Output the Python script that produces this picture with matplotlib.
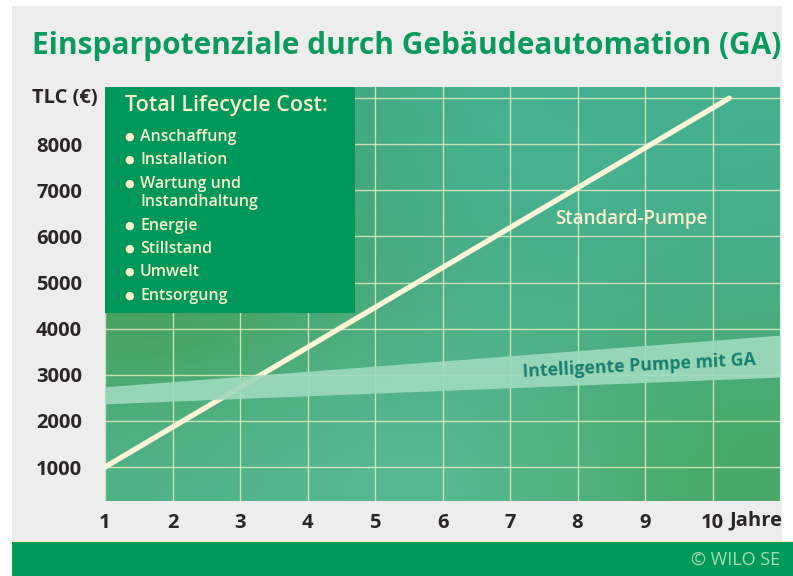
import numpy as np
import matplotlib
matplotlib.use("Agg")
import matplotlib.pyplot as plt
from matplotlib.colors import to_rgb
from matplotlib.patches import Rectangle

# data
years = [1, 2, 3, 4, 5, 6, 7, 8, 9, 10]
y_ticks = [1000, 2000, 3000, 4000, 5000, 6000, 7000, 8000, 9000]
y_labels = ["1000", "2000", "3000", "4000", "5000", "6000", "7000", "8000", ""]

standard_x = [1, 10.25]
standard_y = [1000, 9000]

smart_x = [1, 11]
smart_low = [2370, 2950]
smart_high = [2740, 3860]

lifecycle_items = ["Anschaffung", "Installation", "Wartung und\nInstandhaltung",
                   "Energie", "Stillstand", "Umwelt", "Entsorgung"]

W, H = 793, 576
GREEN = "#0b9a5e"
CREAM = "#f7f2cc"
BOLD_FONT = ["Open Sans", "DejaVu Sans"]


def fx(px):
    return px / W


def fy(py):
    return 1 - py / H


fig = plt.figure(figsize=(W / 100, H / 100), dpi=100, facecolor="white")

# light grey panel and green footer
fig.patches.append(Rectangle((fx(12), fy(541)), fx(770), 535 / H, transform=fig.transFigure,
                             facecolor="#eeeded", edgecolor="none", zorder=-2))
fig.patches.append(Rectangle((fx(12), 0), fx(781), 34 / H, transform=fig.transFigure,
                             facecolor="#00995c", edgecolor="none", zorder=-2))
fig.patches.append(Rectangle((fx(12), fy(542)), fx(781), 1.5 / H, transform=fig.transFigure,
                             facecolor="#f3ecc6", edgecolor="none", zorder=-2))

ax = fig.add_axes([fx(105), 1 - 501 / H, 675 / W, 414 / H])
ax.set_zorder(1)
xlim = (1, 11)
ylim = (263, 9240)

# soft colour gradient of the plot background
grid_cols = [["#3a9f62", "#48b396", "#44b08f"],
             ["#459a4c", "#4bb08e", "#4aae88"],
             ["#4fb389", "#5cbf9e", "#48a866"]]
img = np.array([[to_rgb(c) for c in row] for row in grid_cols])
ax.imshow(img, extent=(xlim[0], xlim[1], ylim[0], ylim[1]), aspect="auto",
          interpolation="bicubic", origin="upper", zorder=0)

ax.set_xlim(*xlim)
ax.set_ylim(*ylim)
ax.set_xticks(years)
ax.set_xticklabels([str(y) for y in years])
ax.set_yticks(y_ticks)
ax.set_yticklabels(y_labels)
ax.grid(True, color="#e2ebbf", linewidth=1.0, alpha=0.85)
for s in ax.spines.values():
    s.set_visible(False)
ax.tick_params(length=0, labelsize=14.5, labelcolor="#2b2626")
ax.tick_params(axis="x", pad=9)
ax.tick_params(axis="y", pad=16.5)
for lab in ax.get_xticklabels() + ax.get_yticklabels():
    lab.set_fontweight("bold")
    lab.set_family(BOLD_FONT)

# standard pump line and intelligent pump band
ax.plot(standard_x, standard_y, color="#fbf6d8", linewidth=3.8, solid_capstyle="round", zorder=3)
ax.fill_between(smart_x, smart_low, smart_high, color="#9fdabd", alpha=0.9, linewidth=0, zorder=4)

# info box
ax.add_patch(Rectangle((0, 0.454), 0.370, 0.546, transform=ax.transAxes,
                       facecolor="#00975b", edgecolor="none", zorder=5))

fig.text(fx(125), fy(105), "Total Lifecycle Cost:", color=CREAM, fontsize=15.5,
         fontweight="semibold", family=BOLD_FONT, va="center", ha="left", zorder=6)
item_y = [137, 160, 184, 226, 249, 272, 296]
for name, py in zip(lifecycle_items, item_y):
    fig.text(fx(129), fy(py), "\u25CF", color=CREAM, fontsize=8, va="center", ha="center",
             family="DejaVu Sans", zorder=6)
    for k, line in enumerate(name.split("\n")):
        fig.text(fx(140), fy(py + 18 * k), line, color=CREAM, fontsize=11.5,
                 fontweight="semibold", family=BOLD_FONT, va="center", ha="left", zorder=6)

# labels
fig.text(fx(32), fy(98), "TLC (\u20ac)", color="#2b2626", fontsize=14.5, fontweight="bold",
         family=BOLD_FONT, va="center", ha="left")
fig.text(fx(32), fy(46), "Einsparpotenziale durch Geb\u00e4udeautomation (GA)", color=GREEN,
         fontsize=21.5, fontweight="bold", family=BOLD_FONT, va="center", ha="left")
fig.text(fx(555), fy(219), "Standard-Pumpe", color=CREAM, fontsize=13.5,
         fontweight="semibold", family=BOLD_FONT, va="center", ha="left", zorder=6)
fig.text(fx(639), fy(366), "Intelligente Pumpe mit GA", color="#187f6f", fontsize=12.8,
         fontweight="bold", family=BOLD_FONT, va="center", ha="center", rotation=3, zorder=6)
fig.text(fx(729), fy(520), "Jahre", color="#2b2626", fontsize=14.5, fontweight="bold",
         family=BOLD_FONT, va="center", ha="left")
fig.text(fx(780), fy(560), "\u00a9 WILO SE", color="#a9dcb3", fontsize=13,
         family=BOLD_FONT, va="center", ha="right")

fig.savefig("out.png", dpi=100, facecolor="white")
